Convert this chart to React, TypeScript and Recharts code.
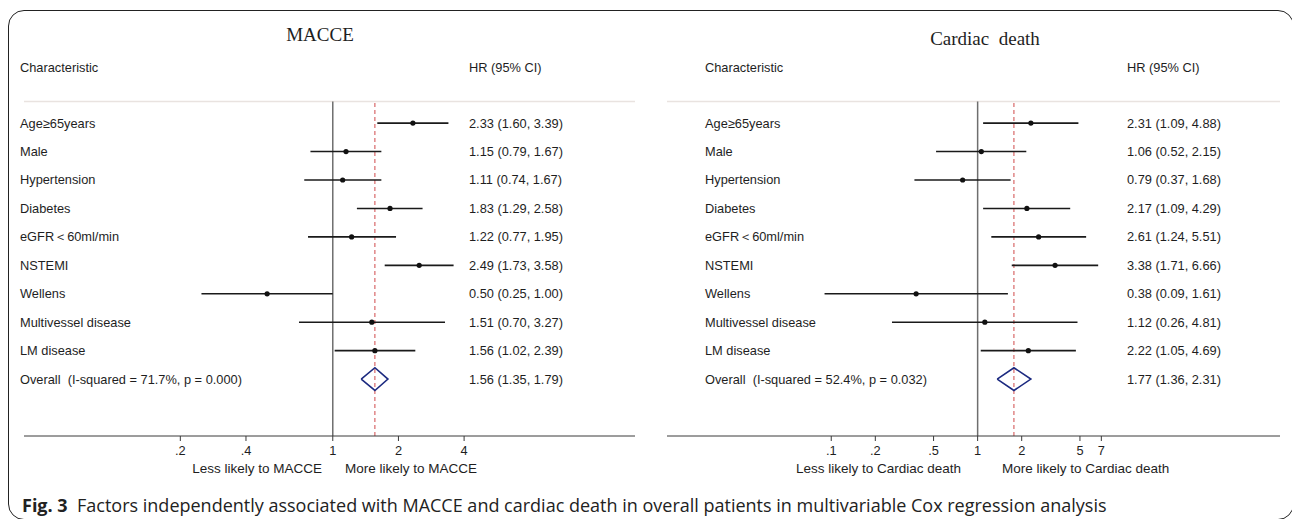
import { ComposedChart, ErrorBar, Line, ReferenceLine, Scatter, XAxis, YAxis } from "recharts";

const factors = [
	"Age≥65years",
	"Male",
	"Hypertension",
	"Diabetes",
	"eGFR＜60ml/min",
	"NSTEMI",
	"Wellens",
	"Multivessel disease",
	"LM disease",
];

const macceHr = [2.33, 1.15, 1.11, 1.83, 1.22, 2.49, 0.5, 1.51, 1.56];
const macceLow = [1.6, 0.79, 0.74, 1.29, 0.77, 1.73, 0.25, 0.7, 1.02];
const macceHigh = [3.39, 1.67, 1.67, 2.58, 1.95, 3.58, 1.0, 3.27, 2.39];
const macceOverall = [1.56, 1.35, 1.79];
const macceOverallLabel = "Overall  (I-squared = 71.7%, p = 0.000)";
const macceTicks = [0.2, 0.4, 1, 2, 4];

const deathHr = [2.31, 1.06, 0.79, 2.17, 2.61, 3.38, 0.38, 1.12, 2.22];
const deathLow = [1.09, 0.52, 0.37, 1.09, 1.24, 1.71, 0.09, 0.26, 1.05];
const deathHigh = [4.88, 2.15, 1.68, 4.29, 5.51, 6.66, 1.61, 4.81, 4.69];
const deathOverall = [1.77, 1.36, 2.31];
const deathOverallLabel = "Overall  (I-squared = 52.4%, p = 0.032)";
const deathTicks = [0.1, 0.2, 0.5, 1, 2, 5, 7];

const FONT = '"Liberation Sans", Arial, sans-serif';
const TEXT = "#1e1e1e";
const FS = 12.8;
const ROW_DOMAIN: [number, number] = [0.24, 12];

const fmt = (hr: number, lo: number, hi: number) =>
	`${hr.toFixed(2)} (${lo.toFixed(2)}, ${hi.toFixed(2)})`;
const tickText = (v: number) => (v < 1 ? String(v).replace(/^0/, "") : String(v));

type PanelProps = {
	left: number;
	width: number;
	axisWidth: number;
	marginRight: number;
	domain: [number, number];
	ticks: number[];
	hr: number[];
	low: number[];
	high: number[];
	overall: number[];
	overallLabel: string;
	labelX: number;
	hrX: number;
};

function ForestPanel(p: PanelProps) {
	const rows = factors.map((name, i) => ({
		name,
		x: p.hr[i],
		y: i + 1,
		err: [p.hr[i] - p.low[i], p.high[i] - p.hr[i]],
	}));
	const [pHr, pLo, pHi] = p.overall;
	const oy = factors.length + 1;
	const diamond = [
		{ x: pLo, y: oy },
		{ x: pHr, y: oy - 0.4 },
		{ x: pHi, y: oy },
		{ x: pHr, y: oy + 0.4 },
		{ x: pLo, y: oy },
	];
	const labels = [...factors, p.overallLabel];
	const values = [...p.hr.map((h, i) => fmt(h, p.low[i], p.high[i])), fmt(pHr, pLo, pHi)];
	const rowTicks = labels.map((_, i) => i + 1);

	return (
		<div style={{ position: "absolute", left: p.left, top: 0 }}>
			<ComposedChart
				width={p.width}
				height={519}
				margin={{ top: 101.5, right: p.marginRight, bottom: 53, left: 0 }}
			>
				<XAxis
					type="number"
					dataKey="x"
					scale="log"
					domain={p.domain}
					allowDataOverflow
					ticks={p.ticks}
					interval={0}
					tickFormatter={tickText}
					height={30}
					tickSize={5}
					tickMargin={5}
					axisLine={{ stroke: "#3a3a3a" }}
					tickLine={{ stroke: "#3a3a3a" }}
					tick={{ fill: TEXT, fontSize: FS, fontFamily: FONT }}
				/>
				<YAxis
					type="number"
					dataKey="y"
					domain={ROW_DOMAIN}
					allowDataOverflow
					reversed
					ticks={rowTicks}
					interval={0}
					width={p.axisWidth}
					axisLine={false}
					tickLine={false}
					tick={(t: any) => {
						const i = t.payload.value - 1;
						return (
							<g key={`row-${i}`}>
								<text
									x={p.labelX}
									y={t.y}
									dy="0.35em"
									fill={TEXT}
									fontSize={FS}
									fontFamily={FONT}
									style={{ whiteSpace: "pre" }}
								>
									{labels[i]}
								</text>
								<text x={p.hrX} y={t.y} dy="0.35em" fill={TEXT} fontSize={FS} fontFamily={FONT}>
									{values[i]}
								</text>
							</g>
						);
					}}
				/>
				<ReferenceLine y={ROW_DOMAIN[0]} stroke="#e9e3e0" strokeWidth={1.5} />
				<ReferenceLine x={1} stroke="#6e6e6e" strokeWidth={1.5} />
				<ReferenceLine x={pHr} stroke="#d0494a" strokeWidth={1} strokeDasharray="4 3" />
				<Scatter
					data={rows}
					isAnimationActive={false}
					shape={(s: any) => <circle cx={s.cx} cy={s.cy} r={2.6} fill="#111" />}
				>
					<ErrorBar
						dataKey="err"
						direction="x"
						width={0}
						stroke="#1a1a1a"
						strokeWidth={1.6}
						isAnimationActive={false}
					/>
				</Scatter>
				<Line
					data={diamond}
					dataKey="y"
					type="linear"
					stroke="#1c2a80"
					strokeWidth={1.6}
					dot={false}
					activeDot={false}
					isAnimationActive={false}
				/>
			</ComposedChart>
		</div>
	);
}

const abs = (left: number, top: number, extra: React.CSSProperties = {}): React.CSSProperties => ({
	position: "absolute",
	left,
	top,
	transform: "translateY(-50%)",
	whiteSpace: "pre",
	color: TEXT,
	fontFamily: FONT,
	fontSize: FS,
	lineHeight: 1,
	...extra,
});

export default function App() {
	return (
		<div style={{ position: "absolute", left: 0, top: 0, width: 1292, height: 519, background: "#fff", overflow: "hidden" }}>
			<div
				style={{
					position: "absolute",
					left: 8,
					top: 10,
					width: 1286,
					height: 510,
					border: "1.5px solid #222",
					borderRadius: 16,
					boxSizing: "border-box",
				}}
			/>
			<ForestPanel
				left={0}
				width={660}
				axisWidth={24}
				marginRight={25}
				domain={[0.0384, 24.3]}
				ticks={macceTicks}
				hr={macceHr}
				low={macceLow}
				high={macceHigh}
				overall={macceOverall}
				overallLabel={macceOverallLabel}
				labelX={20}
				hrX={469}
			/>
			<ForestPanel
				left={640}
				width={652}
				axisWidth={27}
				marginRight={12}
				domain={[0.00755, 116.3]}
				ticks={deathTicks}
				hr={deathHr}
				low={deathLow}
				high={deathHigh}
				overall={deathOverall}
				overallLabel={deathOverallLabel}
				labelX={65}
				hrX={487}
			/>

			<div style={abs(320, 34, { fontFamily: '"Liberation Serif", "Times New Roman", serif', fontSize: 19, transform: "translate(-50%, -50%)" })}>
				MACCE
			</div>
			<div style={abs(985, 38, { fontFamily: '"Liberation Serif", "Times New Roman", serif', fontSize: 19, transform: "translate(-50%, -50%)" })}>
				Cardiac  death
			</div>

			<div style={abs(20, 68)}>Characteristic</div>
			<div style={abs(469, 68)}>HR (95% CI)</div>
			<div style={abs(705, 68)}>Characteristic</div>
			<div style={abs(1127, 68)}>HR (95% CI)</div>

			<div style={abs(322, 469, { transform: "translate(-100%, -50%)", fontSize: 13.5 })}>Less likely to MACCE</div>
			<div style={abs(345, 469, { fontSize: 13.5 })}>More likely to MACCE</div>
			<div style={abs(961, 469, { transform: "translate(-100%, -50%)", fontSize: 13.5 })}>Less likely to Cardiac death</div>
			<div style={abs(1002, 469, { fontSize: 13.5 })}>More likely to Cardiac death</div>

			<div style={abs(22, 505, { fontFamily: '"Open Sans", "Noto Sans", sans-serif', fontSize: 18, color: "#222" })}>
				<b>Fig. 3</b>{"  "}Factors independently associated with MACCE and cardiac death in overall patients in multivariable Cox regression analysis
			</div>
		</div>
	);
}
